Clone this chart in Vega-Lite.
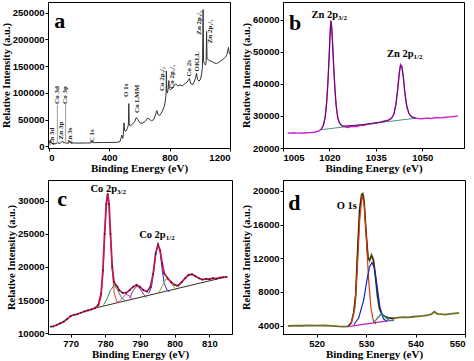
{
  "$schema": "https://vega.github.io/schema/vega-lite/v6.json",
  "padding": {"left": 0, "top": 1, "right": 0, "bottom": 0},
  "background": "white",
  "spacing": 5,
  "resolve": {"scale": {"color": "independent"}},
  "config": {
    "view": {"stroke": "#000", "strokeWidth": 1},
    "axis": {"labelFont": "Liberation Sans", "labelFontWeight": "bold", "labelFontSize": 9.5, "labelColor": "#000", "labelOverlap": false, "titleFont": "Liberation Serif", "titleFontWeight": "bold", "titleFontSize": 11, "titleColor": "#000", "tickColor": "#000", "domainColor": "#000", "tickSize": 3, "grid": false, "labelPadding": 1, "titlePadding": 1, "format": "d"},
    "axisY": {"titleFontSize": 10.5, "labelOverlap": false}
  },
  "datasets": {
    "survey": [
      {"E": 0, "I": 3000}, {"E": 5, "I": 9000}, {"E": 10, "I": 12000}, {"E": 15, "I": 8000}, {"E": 22, "I": 5500}, {"E": 35, "I": 5000}, {"E": 50, "I": 5200}, {"E": 56, "I": 6500}, {"E": 58, "I": 9000}, {"E": 62, "I": 6000}, {"E": 75, "I": 5800}, {"E": 85, "I": 8500}, {"E": 92, "I": 10000}, {"E": 98, "I": 6500}, {"E": 110, "I": 7000}, {"E": 115, "I": 6000}, {"E": 130, "I": 6500}, {"E": 140, "I": 9000}, {"E": 150, "I": 6500}, {"E": 200, "I": 6200}, {"E": 250, "I": 6400}, {"E": 280, "I": 6600}, {"E": 285, "I": 11000}, {"E": 290, "I": 7000}, {"E": 300, "I": 7000}, {"E": 350, "I": 7200}, {"E": 400, "I": 7400}, {"E": 450, "I": 7600}, {"E": 470, "I": 8500}, {"E": 478, "I": 15000}, {"E": 484, "I": 21000}, {"E": 490, "I": 15000}, {"E": 494, "I": 22000}, {"E": 498, "I": 44000}, {"E": 502, "I": 30000}, {"E": 510, "I": 28000}, {"E": 520, "I": 33000}, {"E": 527, "I": 40000}, {"E": 530, "I": 80000}, {"E": 533, "I": 42000}, {"E": 540, "I": 38000}, {"E": 555, "I": 42000}, {"E": 570, "I": 47000}, {"E": 580, "I": 54000}, {"E": 590, "I": 50000}, {"E": 605, "I": 44000}, {"E": 620, "I": 43000}, {"E": 640, "I": 47000}, {"E": 655, "I": 53000}, {"E": 665, "I": 51000}, {"E": 680, "I": 48000}, {"E": 695, "I": 50000}, {"E": 708, "I": 60000}, {"E": 716, "I": 67000}, {"E": 722, "I": 60000}, {"E": 735, "I": 58000}, {"E": 745, "I": 62000}, {"E": 755, "I": 68000}, {"E": 765, "I": 75000}, {"E": 772, "I": 85000}, {"E": 777, "I": 100000}, {"E": 779, "I": 141000}, {"E": 781, "I": 108000}, {"E": 785, "I": 100000}, {"E": 790, "I": 106000}, {"E": 795, "I": 123000}, {"E": 798, "I": 108000}, {"E": 805, "I": 106000}, {"E": 812, "I": 107000}, {"E": 825, "I": 112000}, {"E": 840, "I": 117000}, {"E": 855, "I": 113000}, {"E": 870, "I": 115000}, {"E": 885, "I": 113000}, {"E": 900, "I": 117000}, {"E": 915, "I": 120000}, {"E": 925, "I": 124000}, {"E": 932, "I": 127000}, {"E": 940, "I": 117000}, {"E": 955, "I": 116000}, {"E": 965, "I": 122000}, {"E": 972, "I": 128000}, {"E": 978, "I": 137000}, {"E": 985, "I": 125000}, {"E": 995, "I": 122000}, {"E": 1005, "I": 126000}, {"E": 1012, "I": 135000}, {"E": 1018, "I": 150000}, {"E": 1022, "I": 256000}, {"E": 1025, "I": 160000}, {"E": 1030, "I": 155000}, {"E": 1038, "I": 152000}, {"E": 1042, "I": 158000}, {"E": 1045, "I": 215000}, {"E": 1048, "I": 165000}, {"E": 1055, "I": 162000}, {"E": 1065, "I": 160000}, {"E": 1080, "I": 159000}, {"E": 1095, "I": 156000}, {"E": 1110, "I": 155000}, {"E": 1125, "I": 157000}, {"E": 1140, "I": 160000}, {"E": 1155, "I": 163000}, {"E": 1170, "I": 167000}, {"E": 1180, "I": 172000}, {"E": 1186, "I": 180000}, {"E": 1190, "I": 185000}, {"E": 1194, "I": 176000}, {"E": 1200, "I": 172000}
    ],
    "survey_marks": [
      {"E": 57, "I": 6000, "I2": 78000}, {"E": 112, "I": 6000, "I2": 79500}
    ],
    "survey_labels": [
      {"E": 21, "I": 18500, "t": "Zn 3d"}, {"E": 53, "I": 96000, "t": "Co 3d"}, {"E": 82, "I": 29600, "t": "Zn 3p"}, {"E": 110, "I": 96000, "t": "Co 3p"}, {"E": 139, "I": 20000, "t": "Zn 3s"}, {"E": 287, "I": 20000, "t": "C 1s"}, {"E": 510, "I": 105000, "t": "O 1s"}, {"E": 581, "I": 89000, "t": "Co LMM"}, {"E": 752, "I": 126000, "t": "Co 2p₃/₂"}, {"E": 815, "I": 130000, "t": "Co 2p₁/₂"}, {"E": 928, "I": 146000, "t": "Co 2s"}, {"E": 979, "I": 159000, "t": "OKLL"}, {"E": 996, "I": 231000, "t": "Zn 2p₃/₂"}, {"E": 1067, "I": 215000, "t": "Zn 2p₁/₂"}
    ],
    "zn": [
      {"E": 1006.5, "I": 24700}, {"E": 1007.5, "I": 24600}, {"E": 1008.5, "I": 24750}, {"E": 1009.5, "I": 24650}, {"E": 1010.5, "I": 24700}, {"E": 1011.5, "I": 24600}, {"E": 1012.5, "I": 24750}, {"E": 1013.5, "I": 24800}, {"E": 1014.5, "I": 24850}, {"E": 1015.5, "I": 25000}, {"E": 1016.5, "I": 25300}, {"E": 1017.3, "I": 25800}, {"E": 1018, "I": 27000}, {"E": 1018.6, "I": 29500}, {"E": 1019.1, "I": 34000}, {"E": 1019.5, "I": 40000}, {"E": 1019.9, "I": 48000}, {"E": 1020.2, "I": 55000}, {"E": 1020.45, "I": 59700}, {"E": 1020.7, "I": 58000}, {"E": 1021.0, "I": 53000}, {"E": 1021.4, "I": 45000}, {"E": 1021.8, "I": 38000}, {"E": 1022.2, "I": 33000}, {"E": 1022.7, "I": 29500}, {"E": 1023.3, "I": 27800}, {"E": 1024, "I": 27000}, {"E": 1025, "I": 26600}, {"E": 1026, "I": 26400}, {"E": 1027, "I": 26700}, {"E": 1028, "I": 26800}, {"E": 1029, "I": 26700}, {"E": 1030, "I": 27100}, {"E": 1031, "I": 27000}, {"E": 1032, "I": 27300}, {"E": 1033, "I": 27500}, {"E": 1034, "I": 27600}, {"E": 1035, "I": 27800}, {"E": 1036, "I": 27900}, {"E": 1037, "I": 28200}, {"E": 1038, "I": 28500}, {"E": 1039, "I": 28700}, {"E": 1040, "I": 29200}, {"E": 1040.8, "I": 30500}, {"E": 1041.5, "I": 33500}, {"E": 1042.1, "I": 38500}, {"E": 1042.6, "I": 43500}, {"E": 1043.0, "I": 46000}, {"E": 1043.4, "I": 45500}, {"E": 1043.9, "I": 42000}, {"E": 1044.4, "I": 37000}, {"E": 1045, "I": 33000}, {"E": 1045.7, "I": 30800}, {"E": 1046.5, "I": 29800}, {"E": 1047.5, "I": 29400}, {"E": 1048.5, "I": 29200}, {"E": 1050, "I": 29100}, {"E": 1051.5, "I": 29300}, {"E": 1053, "I": 29200}, {"E": 1054.5, "I": 29500}, {"E": 1056, "I": 29400}, {"E": 1057.5, "I": 29600}, {"E": 1059, "I": 29700}, {"E": 1060.5, "I": 29800}, {"E": 1061.5, "I": 30000}
    ],
    "zn_fit": [
      {"E": 1017.3, "I": 25800}, {"E": 1018, "I": 26800}, {"E": 1018.6, "I": 29300}, {"E": 1019.1, "I": 34200}, {"E": 1019.5, "I": 40300}, {"E": 1019.9, "I": 48200}, {"E": 1020.2, "I": 55200}, {"E": 1020.45, "I": 59500}, {"E": 1020.7, "I": 58200}, {"E": 1021.0, "I": 53200}, {"E": 1021.4, "I": 45200}, {"E": 1021.8, "I": 38200}, {"E": 1022.2, "I": 33200}, {"E": 1022.7, "I": 29400}, {"E": 1023.3, "I": 27600}, {"E": 1024, "I": 26800}, {"E": 1030, "I": 27200}, {"E": 1037, "I": 28100}, {"E": 1039, "I": 28600}, {"E": 1040, "I": 29100}, {"E": 1040.8, "I": 30400}, {"E": 1041.5, "I": 33600}, {"E": 1042.1, "I": 38600}, {"E": 1042.6, "I": 43600}, {"E": 1043.0, "I": 45900}, {"E": 1043.4, "I": 45400}, {"E": 1043.9, "I": 42100}, {"E": 1044.4, "I": 37100}, {"E": 1045, "I": 33100}, {"E": 1045.7, "I": 30700}, {"E": 1046.5, "I": 29700}, {"E": 1048, "I": 29300}
    ],
    "zn_bg": [
      {"E": 1017.3, "I": 25700}, {"E": 1048, "I": 29300}
    ],
    "zn_labels": [
      {"E": 1020.2, "I": 61450, "main": "Zn 2p", "sub": "3/2"}, {"E": 1044.6, "I": 49250, "main": "Zn 2p", "sub": "1/2"}
    ],
    "co": [
      {"E": 764.3, "I": 11000}, {"E": 765, "I": 11050}, {"E": 766, "I": 11250}, {"E": 767, "I": 11500}, {"E": 768, "I": 11750}, {"E": 769, "I": 12150}, {"E": 770, "I": 12600}, {"E": 771, "I": 12800}, {"E": 772, "I": 12900}, {"E": 773, "I": 13100}, {"E": 774, "I": 13300}, {"E": 775, "I": 13450}, {"E": 776, "I": 13600}, {"E": 777, "I": 13800}, {"E": 778, "I": 14300}, {"E": 778.8, "I": 16000}, {"E": 779.3, "I": 19500}, {"E": 779.8, "I": 25000}, {"E": 780.3, "I": 29500}, {"E": 780.7, "I": 31000}, {"E": 781.1, "I": 29500}, {"E": 781.5, "I": 25000}, {"E": 782, "I": 20000}, {"E": 782.5, "I": 17800}, {"E": 783, "I": 17300}, {"E": 783.5, "I": 17000}, {"E": 784, "I": 16500}, {"E": 785, "I": 16100}, {"E": 786, "I": 16100}, {"E": 787, "I": 16500}, {"E": 788, "I": 17000}, {"E": 789, "I": 17300}, {"E": 790, "I": 17000}, {"E": 791, "I": 16500}, {"E": 792, "I": 16300}, {"E": 793, "I": 17000}, {"E": 793.8, "I": 19000}, {"E": 794.5, "I": 22000}, {"E": 795.2, "I": 23400}, {"E": 795.8, "I": 22500}, {"E": 796.4, "I": 20500}, {"E": 797, "I": 19000}, {"E": 798, "I": 18300}, {"E": 799, "I": 17700}, {"E": 800, "I": 17300}, {"E": 801, "I": 17200}, {"E": 802, "I": 17700}, {"E": 803, "I": 18300}, {"E": 804, "I": 18800}, {"E": 805, "I": 18900}, {"E": 806, "I": 18600}, {"E": 807, "I": 18300}, {"E": 808, "I": 18100}, {"E": 809, "I": 18200}, {"E": 810, "I": 18150}, {"E": 811, "I": 18300}, {"E": 812, "I": 18250}, {"E": 813, "I": 18400}, {"E": 814, "I": 18450}, {"E": 815, "I": 18500}
    ],
    "co_bg": [
      {"E": 777, "I": 13800}, {"E": 814, "I": 18400}
    ],
    "co_comp": [
      {"s": "c1", "E": 778, "I": 14000}, {"s": "c1", "E": 778.8, "I": 15500}, {"s": "c1", "E": 779.4, "I": 19500}, {"s": "c1", "E": 779.9, "I": 25500}, {"s": "c1", "E": 780.3, "I": 29800}, {"s": "c1", "E": 780.6, "I": 31000}, {"s": "c1", "E": 781, "I": 29500}, {"s": "c1", "E": 781.5, "I": 24500}, {"s": "c1", "E": 782, "I": 19500}, {"s": "c1", "E": 782.6, "I": 16000}, {"s": "c1", "E": 783.3, "I": 14800}, {"s": "c1", "E": 784, "I": 14700},
      {"s": "c2", "E": 779.5, "I": 14300}, {"s": "c2", "E": 780.5, "I": 15200}, {"s": "c2", "E": 781.5, "I": 16500}, {"s": "c2", "E": 782.5, "I": 17200}, {"s": "c2", "E": 783.5, "I": 16600}, {"s": "c2", "E": 784.5, "I": 15500}, {"s": "c2", "E": 785.5, "I": 15000}, {"s": "c2", "E": 786, "I": 14900},
      {"s": "c3", "E": 784, "I": 14800}, {"s": "c3", "E": 785, "I": 15400}, {"s": "c3", "E": 786, "I": 15900}, {"s": "c3", "E": 787, "I": 15600}, {"s": "c3", "E": 788, "I": 15100},
      {"s": "c4", "E": 787, "I": 15300}, {"s": "c4", "E": 788, "I": 16400}, {"s": "c4", "E": 789.2, "I": 17200}, {"s": "c4", "E": 790.3, "I": 16500}, {"s": "c4", "E": 791.3, "I": 15700}, {"s": "c4", "E": 792, "I": 15400},
      {"s": "c5", "E": 792.5, "I": 16000}, {"s": "c5", "E": 793.3, "I": 17000}, {"s": "c5", "E": 794, "I": 19500}, {"s": "c5", "E": 794.6, "I": 22300}, {"s": "c5", "E": 795.2, "I": 23300}, {"s": "c5", "E": 795.8, "I": 22300}, {"s": "c5", "E": 796.4, "I": 19500}, {"s": "c5", "E": 797, "I": 17500}, {"s": "c5", "E": 797.8, "I": 16500}, {"s": "c5", "E": 798.5, "I": 16300},
      {"s": "c6", "E": 795.5, "I": 16200}, {"s": "c6", "E": 796.5, "I": 17200}, {"s": "c6", "E": 797.5, "I": 18200}, {"s": "c6", "E": 798.5, "I": 18000}, {"s": "c6", "E": 799.5, "I": 17200}, {"s": "c6", "E": 800.5, "I": 16500},
      {"s": "c7", "E": 800.5, "I": 17000}, {"s": "c7", "E": 802, "I": 17800}, {"s": "c7", "E": 803.5, "I": 18600}, {"s": "c7", "E": 804.8, "I": 18900}, {"s": "c7", "E": 806, "I": 18600}, {"s": "c7", "E": 807.5, "I": 18100}
    ],
    "co_labels": [
      {"E": 781.1, "I": 31750, "main": "Co 2p", "sub": "3/2"}, {"E": 795.1, "I": 24750, "main": "Co 2p", "sub": "1/2"}
    ],
    "o": [
      {"E": 514.2, "I": 3950}, {"E": 515.5, "I": 4000}, {"E": 517, "I": 3980}, {"E": 518.5, "I": 4020}, {"E": 520, "I": 3990}, {"E": 521.5, "I": 4010}, {"E": 523, "I": 3960}, {"E": 524.5, "I": 3900}, {"E": 525.5, "I": 3880}, {"E": 526.3, "I": 3900}, {"E": 527, "I": 4300}, {"E": 527.5, "I": 5500}, {"E": 527.9, "I": 7500}, {"E": 528.3, "I": 13000}, {"E": 528.7, "I": 17800}, {"E": 529.1, "I": 19600}, {"E": 529.35, "I": 19700}, {"E": 529.6, "I": 18800}, {"E": 530, "I": 15000}, {"E": 530.4, "I": 12000}, {"E": 530.7, "I": 11700}, {"E": 531.1, "I": 12400}, {"E": 531.5, "I": 11800}, {"E": 531.9, "I": 9800}, {"E": 532.3, "I": 7500}, {"E": 532.7, "I": 6000}, {"E": 533.2, "I": 5300}, {"E": 533.8, "I": 5100}, {"E": 534.5, "I": 4950}, {"E": 535.5, "I": 4870}, {"E": 536.5, "I": 4950}, {"E": 537.5, "I": 5000}, {"E": 538.5, "I": 4980}, {"E": 539.5, "I": 5050}, {"E": 540.5, "I": 5100}, {"E": 541.5, "I": 5150}, {"E": 542.5, "I": 5250}, {"E": 543.2, "I": 5350}, {"E": 543.8, "I": 5650}, {"E": 544.4, "I": 5400}, {"E": 545.2, "I": 5350}, {"E": 546, "I": 5300}, {"E": 547, "I": 5400}, {"E": 548, "I": 5450}, {"E": 548.8, "I": 5500}
    ],
    "o_fit": [
      {"E": 526.3, "I": 3900}, {"E": 527, "I": 4350}, {"E": 527.5, "I": 5600}, {"E": 527.9, "I": 7800}, {"E": 528.3, "I": 13200}, {"E": 528.7, "I": 17900}, {"E": 529.1, "I": 19500}, {"E": 529.35, "I": 19600}, {"E": 529.6, "I": 18700}, {"E": 530, "I": 15100}, {"E": 530.4, "I": 12100}, {"E": 530.7, "I": 11800}, {"E": 531.1, "I": 12300}, {"E": 531.5, "I": 11700}, {"E": 531.9, "I": 9700}, {"E": 532.3, "I": 7600}, {"E": 532.7, "I": 6100}, {"E": 533.2, "I": 5350}, {"E": 533.8, "I": 5050}, {"E": 534.5, "I": 4900}, {"E": 535.5, "I": 4800}
    ],
    "o_comp": [
      {"s": "bg", "E": 526.3, "I": 3870}, {"s": "bg", "E": 535.7, "I": 4670},
      {"s": "r", "E": 527, "I": 4300}, {"s": "r", "E": 527.7, "I": 6000}, {"s": "r", "E": 528.2, "I": 10500}, {"s": "r", "E": 528.7, "I": 16500}, {"s": "r", "E": 529.2, "I": 19500}, {"s": "r", "E": 529.6, "I": 18500}, {"s": "r", "E": 530, "I": 15000}, {"s": "r", "E": 530.5, "I": 9500}, {"s": "r", "E": 531, "I": 6000}, {"s": "r", "E": 531.5, "I": 4500}, {"s": "r", "E": 532, "I": 4200},
      {"s": "b", "E": 527.5, "I": 4100}, {"s": "b", "E": 528.5, "I": 4900}, {"s": "b", "E": 529.5, "I": 7000}, {"s": "b", "E": 530.2, "I": 9500}, {"s": "b", "E": 530.7, "I": 11000}, {"s": "b", "E": 531.2, "I": 11500}, {"s": "b", "E": 531.7, "I": 10800}, {"s": "b", "E": 532.2, "I": 8800}, {"s": "b", "E": 532.8, "I": 6200}, {"s": "b", "E": 533.5, "I": 4800}, {"s": "b", "E": 534.2, "I": 4500},
      {"s": "t", "E": 531.5, "I": 4300}, {"s": "t", "E": 532.3, "I": 4900}, {"s": "t", "E": 533.1, "I": 5400}, {"s": "t", "E": 533.9, "I": 5000}, {"s": "t", "E": 534.7, "I": 4600}, {"s": "t", "E": 535.5, "I": 4600}
    ],
    "o_labels": [
      {"E": 526.1, "I": 18230, "main": "O 1s", "sub": ""}
    ]
  },
  "vconcat": [
    {
      "spacing": 8,
      "resolve": {"scale": {"color": "independent"}},
      "hconcat": [
        {
          "width": 182, "height": 146,
          "layer": [
            {"data": {"name": "survey"}, "mark": {"type": "line", "color": "#333333", "strokeWidth": 1},
             "encoding": {
               "x": {"field": "E", "type": "quantitative", "title": "Binding Energy (eV)", "scale": {"domain": [-5, 1200], "nice": false, "zero": false}, "axis": {"values": [0, 200, 400, 600, 800, 1000, 1200], "labelOverlap": false}},
               "y": {"field": "I", "type": "quantitative", "title": "Relative Intensity (a.u.)", "scale": {"domain": [-3000, 270000], "nice": false, "zero": false}, "axis": {"values": [0, 50000, 100000, 150000, 200000, 250000], "labelOverlap": false, "tickCount": 6}}
             }},
            {"data": {"name": "survey_marks"}, "mark": {"type": "rule", "color": "#a0a0a0", "strokeWidth": 1},
             "encoding": {
               "x": {"field": "E", "type": "quantitative", "title": "Binding Energy (eV)"},
               "y": {"field": "I", "type": "quantitative", "title": "Relative Intensity (a.u.)"},
               "y2": {"field": "I2"}
             }},
            {"data": {"name": "survey_labels"}, "mark": {"type": "text", "angle": 270, "font": "Liberation Serif", "fontWeight": "bold", "fontSize": 7, "align": "center", "baseline": "middle", "color": "#222"},
             "encoding": {
               "x": {"field": "E", "type": "quantitative", "title": "Binding Energy (eV)"},
               "y": {"field": "I", "type": "quantitative", "title": "Relative Intensity (a.u.)"},
               "text": {"field": "t"}
             }},
            {"data": {"values": [{"E": 73, "I": 234000, "t": "a"}]}, "mark": {"type": "text", "font": "Liberation Serif", "fontWeight": "bold", "fontSize": 22, "align": "center", "baseline": "middle", "color": "#000"},
             "encoding": {
               "x": {"field": "E", "type": "quantitative", "title": "Binding Energy (eV)"},
               "y": {"field": "I", "type": "quantitative", "title": "Relative Intensity (a.u.)"},
               "text": {"field": "t"}
             }}
          ]
        },
        {
          "width": 181, "height": 146,
          "layer": [
            {"data": {"name": "zn_bg"}, "mark": {"type": "line", "color": "#3f9a8a", "strokeWidth": 1},
             "encoding": {
               "x": {"field": "E", "type": "quantitative", "title": "Binding Energy (eV)", "scale": {"domain": [1005, 1063.5], "nice": false, "zero": false}, "axis": {"values": [1005, 1020, 1035, 1050], "labelOverlap": false}},
               "y": {"field": "I", "type": "quantitative", "title": "Relative Intensity (a.u.)", "scale": {"domain": [20000, 65500], "nice": false, "zero": false}, "axis": {"values": [20000, 30000, 40000, 50000, 60000], "labelOverlap": false, "tickCount": 5}}
             }},
            {"data": {"name": "zn"}, "mark": {"type": "line", "color": "#cc22cc", "strokeWidth": 1.4},
             "encoding": {
               "x": {"field": "E", "type": "quantitative", "title": "Binding Energy (eV)"},
               "y": {"field": "I", "type": "quantitative", "title": "Relative Intensity (a.u.)"}
             }},
            {"data": {"name": "zn_fit"}, "mark": {"type": "line", "color": "#5a1060", "strokeWidth": 1},
             "encoding": {
               "x": {"field": "E", "type": "quantitative", "title": "Binding Energy (eV)"},
               "y": {"field": "I", "type": "quantitative", "title": "Relative Intensity (a.u.)"}
             }},
            {"data": {"name": "zn_labels"}, "mark": {"type": "text", "font": "Liberation Serif", "fontWeight": "bold", "fontSize": 10.5, "align": "right", "baseline": "middle", "dx": 8, "color": "#000"},
             "encoding": {
               "x": {"field": "E", "type": "quantitative", "title": "Binding Energy (eV)"},
               "y": {"field": "I", "type": "quantitative", "title": "Relative Intensity (a.u.)"},
               "text": {"field": "main"}
             }},
            {"data": {"name": "zn_labels"}, "mark": {"type": "text", "font": "Liberation Serif", "fontWeight": "bold", "fontSize": 7, "align": "left", "baseline": "middle", "dx": 8, "dy": 3, "color": "#000"},
             "encoding": {
               "x": {"field": "E", "type": "quantitative", "title": "Binding Energy (eV)"},
               "y": {"field": "I", "type": "quantitative", "title": "Relative Intensity (a.u.)"},
               "text": {"field": "sub"}
             }},
            {"data": {"values": [{"E": 1008.9, "I": 58850, "t": "b"}]}, "mark": {"type": "text", "font": "Liberation Serif", "fontWeight": "bold", "fontSize": 22, "align": "center", "baseline": "middle", "color": "#000"},
             "encoding": {
               "x": {"field": "E", "type": "quantitative", "title": "Binding Energy (eV)"},
               "y": {"field": "I", "type": "quantitative", "title": "Relative Intensity (a.u.)"},
               "text": {"field": "t"}
             }}
          ]
        }
      ]
    },
    {
      "spacing": 8,
      "resolve": {"scale": {"color": "independent"}},
      "hconcat": [
        {
          "width": 184, "height": 154,
          "layer": [
            {"data": {"name": "co_bg"}, "mark": {"type": "line", "color": "#3a2a1a", "strokeWidth": 1},
             "encoding": {
               "x": {"field": "E", "type": "quantitative", "title": "Binding Energy (eV)", "scale": {"domain": [763.5, 816.5], "nice": false, "zero": false}, "axis": {"values": [770, 780, 790, 800, 810], "labelOverlap": false}},
               "y": {"field": "I", "type": "quantitative", "title": "Relative Intensity (a.u.)", "scale": {"domain": [9900, 33100], "nice": false, "zero": false}, "axis": {"values": [10000, 15000, 20000, 25000, 30000], "labelOverlap": false, "tickCount": 5}}
             }},
            {"data": {"name": "co_comp"}, "mark": {"type": "line", "strokeWidth": 1},
             "encoding": {
               "x": {"field": "E", "type": "quantitative", "title": "Binding Energy (eV)"},
               "y": {"field": "I", "type": "quantitative", "title": "Relative Intensity (a.u.)"},
               "color": {"field": "s", "type": "nominal", "legend": null, "scale": {"domain": ["c1", "c2", "c3", "c4", "c5", "c6", "c7"], "range": ["#e0402a", "#3a8a4a", "#c040c0", "#6a3aa0", "#2a2ac0", "#a0a030", "#404040"]}}
             }},
            {"data": {"name": "co"}, "mark": {"type": "line", "color": "#c0185a", "strokeWidth": 1.8},
             "encoding": {
               "x": {"field": "E", "type": "quantitative", "title": "Binding Energy (eV)"},
               "y": {"field": "I", "type": "quantitative", "title": "Relative Intensity (a.u.)"}
             }},
            {"data": {"name": "co"}, "mark": {"type": "point", "filled": true, "color": "#111", "size": 3, "opacity": 0.8},
             "encoding": {
               "x": {"field": "E", "type": "quantitative", "title": "Binding Energy (eV)"},
               "y": {"field": "I", "type": "quantitative", "title": "Relative Intensity (a.u.)"}
             }},
            {"data": {"name": "co_labels"}, "mark": {"type": "text", "font": "Liberation Serif", "fontWeight": "bold", "fontSize": 10.5, "align": "right", "baseline": "middle", "dx": 8, "color": "#000"},
             "encoding": {
               "x": {"field": "E", "type": "quantitative", "title": "Binding Energy (eV)"},
               "y": {"field": "I", "type": "quantitative", "title": "Relative Intensity (a.u.)"},
               "text": {"field": "main"}
             }},
            {"data": {"name": "co_labels"}, "mark": {"type": "text", "font": "Liberation Serif", "fontWeight": "bold", "fontSize": 7, "align": "left", "baseline": "middle", "dx": 8, "dy": 3, "color": "#000"},
             "encoding": {
               "x": {"field": "E", "type": "quantitative", "title": "Binding Energy (eV)"},
               "y": {"field": "I", "type": "quantitative", "title": "Relative Intensity (a.u.)"},
               "text": {"field": "sub"}
             }},
            {"data": {"values": [{"E": 767.6, "I": 30250, "t": "c"}]}, "mark": {"type": "text", "font": "Liberation Serif", "fontWeight": "bold", "fontSize": 22, "align": "center", "baseline": "middle", "color": "#000"},
             "encoding": {
               "x": {"field": "E", "type": "quantitative", "title": "Binding Energy (eV)"},
               "y": {"field": "I", "type": "quantitative", "title": "Relative Intensity (a.u.)"},
               "text": {"field": "t"}
             }}
          ]
        },
        {
          "width": 182, "height": 154,
          "layer": [
            {"data": {"name": "o"}, "mark": {"type": "line", "color": "#6e6e22", "strokeWidth": 1.8},
             "encoding": {
               "x": {"field": "E", "type": "quantitative", "title": "Binding Energy (eV)", "scale": {"domain": [513.2, 550], "nice": false, "zero": false}, "axis": {"values": [520, 530, 540, 550], "labelOverlap": false}},
               "y": {"field": "I", "type": "quantitative", "title": "Relative Intensity (a.u.)", "scale": {"domain": [3000, 21300], "nice": false, "zero": false}, "axis": {"values": [4000, 8000, 12000, 16000, 20000], "labelOverlap": false, "tickCount": 5}}
             }},
            {"data": {"name": "o_fit"}, "mark": {"type": "line", "color": "#111111", "strokeWidth": 0.9},
             "encoding": {
               "x": {"field": "E", "type": "quantitative", "title": "Binding Energy (eV)"},
               "y": {"field": "I", "type": "quantitative", "title": "Relative Intensity (a.u.)"}
             }},
            {"data": {"name": "o_comp"}, "mark": {"type": "line", "strokeWidth": 1.2},
             "encoding": {
               "x": {"field": "E", "type": "quantitative", "title": "Binding Energy (eV)"},
               "y": {"field": "I", "type": "quantitative", "title": "Relative Intensity (a.u.)"},
               "color": {"field": "s", "type": "nominal", "legend": null, "scale": {"domain": ["bg", "r", "b", "t"], "range": ["#c020c0", "#d03a10", "#2020c0", "#208a80"]}}
             }},
            {"data": {"name": "o_labels"}, "mark": {"type": "text", "font": "Liberation Serif", "fontWeight": "bold", "fontSize": 10.5, "align": "center", "baseline": "middle", "color": "#000"},
             "encoding": {
               "x": {"field": "E", "type": "quantitative", "title": "Binding Energy (eV)"},
               "y": {"field": "I", "type": "quantitative", "title": "Relative Intensity (a.u.)"},
               "text": {"field": "main"}
             }},
            {"data": {"values": [{"E": 515.5, "I": 18600, "t": "d"}]}, "mark": {"type": "text", "font": "Liberation Serif", "fontWeight": "bold", "fontSize": 22, "align": "center", "baseline": "middle", "color": "#000"},
             "encoding": {
               "x": {"field": "E", "type": "quantitative", "title": "Binding Energy (eV)"},
               "y": {"field": "I", "type": "quantitative", "title": "Relative Intensity (a.u.)"},
               "text": {"field": "t"}
             }}
          ]
        }
      ]
    }
  ]
}
